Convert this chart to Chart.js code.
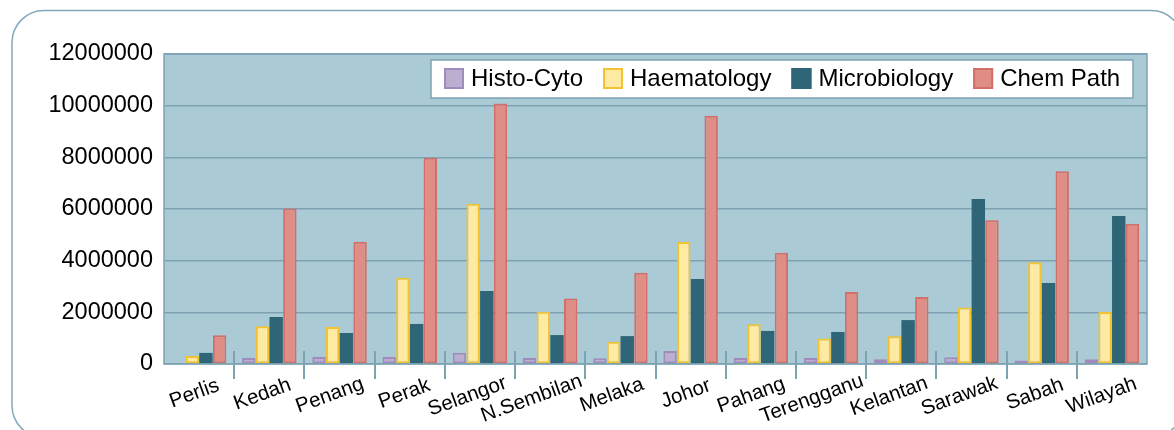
<!DOCTYPE html>
<html>
<head>
<meta charset="utf-8">
<title>Pathology workload by state</title>
<script src="https://cdn.jsdelivr.net/npm/chart.js@4.4.0/dist/chart.umd.min.js"></script>
<style>
  html, body { margin: 0; padding: 0; background: #ffffff; }
  #myChart { display: block; }
</style>
</head>
<body>
<canvas id="myChart" width="1174" height="430"></canvas>
<script>
"use strict"

// categories + series
const states = ["Perlis", "Kedah", "Penang", "Perak", "Selangor", "N.Sembilan", "Melaka",
    "Johor", "Pahang", "Terengganu", "Kelantan", "Sarawak", "Sabah", "Wilayah"];

const histoCyto    = [0, 230000, 270000, 270000, 440000, 230000, 220000, 500000, 230000, 230000, 180000, 260000, 140000, 180000];
const haematology  = [310000, 1460000, 1430000, 3340000, 6200000, 2020000, 860000, 4720000, 1540000, 990000, 1070000, 2190000, 3940000, 2010000];
const microbiology = [430000, 1820000, 1200000, 1550000, 2830000, 1120000, 1080000, 3290000, 1280000, 1240000, 1700000, 6390000, 3140000, 5730000];
const chemPath     = [1110000, 6020000, 4730000, 7980000, 10080000, 2540000, 3530000, 9610000, 4310000, 2790000, 2590000, 5560000, 7460000, 5430000];

const seriesNames = ["Histo-Cyto", "Haematology", "Microbiology", "Chem Path"];
const yTicks = [0, 2000000, 4000000, 6000000, 8000000, 10000000, 12000000];

const fontFamily = '"Liberation Sans", Arial, sans-serif';
const gridColor = "#7ea2b2";

// frame around the whole thing + blue plot background
const backgroundPlugin = {
    id: "plotBackground",
    beforeDraw(chart) {
        const ctx = chart.ctx;
        const area = chart.chartArea;
        ctx.save();
        ctx.strokeStyle = "#85a7ba";
        ctx.lineWidth = 1.5;
        ctx.beginPath();
        ctx.roundRect(12, 10.5, 1171, 427, 32);
        ctx.stroke();
        ctx.fillStyle = "#aacbd6";
        ctx.fillRect(area.left, area.top, area.right - area.left, area.bottom - area.top);
        ctx.restore();
    }
};

// border, category separators and slanted state names
const axisPlugin = {
    id: "stateAxis",
    afterDatasetsDraw(chart) {
        const ctx = chart.ctx;
        const area = chart.chartArea;
        const x = chart.scales.x;
        ctx.save();
        ctx.strokeStyle = gridColor;
        ctx.lineWidth = 1.5;
        ctx.strokeRect(area.left, area.top, area.right - area.left, area.bottom - area.top);

        ctx.lineWidth = 2;
        for (let i = 1; i < states.length; i++) {
            const px = Math.round((x.getPixelForValue(i - 1) + x.getPixelForValue(i)) / 2);
            ctx.beginPath();
            ctx.moveTo(px, area.bottom - 13);
            ctx.lineTo(px, area.bottom + 15);
            ctx.stroke();
        }

        ctx.fillStyle = "#000000";
        ctx.font = "20.5px " + fontFamily;
        ctx.textAlign = "left";
        ctx.textBaseline = "middle";
        for (let i = 0; i < states.length; i++) {
            const cx = x.getPixelForValue(i);
            const w = ctx.measureText(states[i]).width;
            ctx.save();
            ctx.translate(cx + 8, area.bottom + 25);
            ctx.rotate(-20 * Math.PI / 180);
            ctx.fillText(states[i], -0.766 * w, 0);
            ctx.restore();
        }
        ctx.restore();
    }
};

// legend box in the top right of the plot
const legendPlugin = {
    id: "boxLegend",
    afterDraw(chart) {
        const ctx = chart.ctx;
        ctx.save();
        ctx.fillStyle = "#ffffff";
        ctx.fillRect(431, 60, 702, 38);
        ctx.strokeStyle = gridColor;
        ctx.lineWidth = 1.5;
        ctx.strokeRect(431, 60, 702, 38);

        ctx.font = "24px " + fontFamily;
        ctx.textAlign = "left";
        ctx.textBaseline = "middle";
        let lx = 444;
        chart.data.datasets.forEach(function (ds) {
            ctx.fillStyle = ds.backgroundColor;
            ctx.fillRect(lx, 68, 20, 21);
            ctx.strokeStyle = ds.borderColor;
            ctx.lineWidth = 2;
            ctx.strokeRect(lx + 1, 69, 18, 19);
            ctx.fillStyle = "#000000";
            ctx.fillText(ds.label, lx + 27, 79);
            lx += 27 + ctx.measureText(ds.label).width + 20;
        });
        ctx.restore();
    }
};

const data = {
    labels: states,
    datasets: [
        {
            label: seriesNames[0],
            data: histoCyto,
            backgroundColor: "#bcaed0",
            borderColor: "#a08cbc",
            borderWidth: 2
        },
        {
            label: seriesNames[1],
            data: haematology,
            backgroundColor: "#ffeaa3",
            borderColor: "#f2c230",
            borderWidth: 2
        },
        {
            label: seriesNames[2],
            data: microbiology,
            backgroundColor: "#2e6677",
            borderColor: "#2e6677",
            borderWidth: 0
        },
        {
            label: seriesNames[3],
            data: chemPath,
            backgroundColor: "#e08e85",
            borderColor: "#d1706a",
            borderWidth: 2
        }
    ]
};

const config = {
    type: "bar",
    data: data,
    options: {
        responsive: false,
        animation: false,
        devicePixelRatio: 1,
        layout: { padding: { top: 54, right: 27, left: 0, bottom: 0 } },
        datasets: {
            bar: { categoryPercentage: 0.78, barPercentage: 0.98, borderSkipped: false }
        },
        plugins: {
            legend: { display: false },
            tooltip: { enabled: false }
        },
        scales: {
            x: {
                grid: { display: false },
                border: { display: false },
                ticks: { display: false },
                afterFit: function (scale) { scale.height = 66; }
            },
            y: {
                min: yTicks[0],
                max: yTicks[yTicks.length - 1],
                ticks: {
                    stepSize: yTicks[1] - yTicks[0],
                    padding: 11,
                    color: "#000000",
                    font: { family: fontFamily, size: 23.5 },
                    callback: function (value) { return String(value); }
                },
                grid: { color: gridColor, lineWidth: 1.5, drawTicks: false },
                border: { display: false },
                afterFit: function (scale) { scale.width = 164; }
            }
        }
    },
    plugins: [backgroundPlugin, axisPlugin, legendPlugin]
};

const labChart = new Chart(document.getElementById("myChart"), config);
</script>
</body>
</html>
